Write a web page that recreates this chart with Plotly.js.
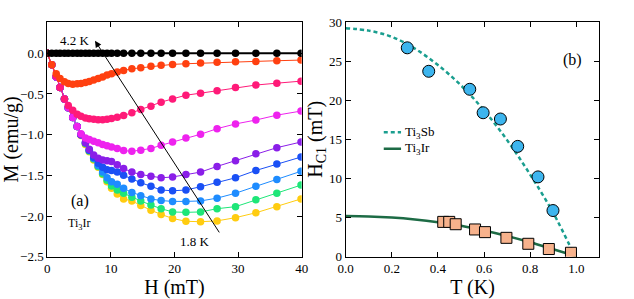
<!DOCTYPE html>
<html><head><meta charset="utf-8">
<script src="https://cdn.plot.ly/plotly-3.0.1.min.js"></script>
<style>html,body{margin:0;padding:0;background:#fff}#c{width:634px;height:299px}</style>
</head><body><div id="c"></div>
<script>
// ---- Panel (a): M vs H for Ti3Ir ----
const H = [0, 0.7, 1.4, 2.0, 2.7, 3.3, 4.0, 4.7, 5.3, 6.0, 6.6, 7.3, 8.0, 8.7, 9.4, 10.1, 11.0, 12.0, 13.3, 14.7, 16.3, 17.9, 19.7, 21.8, 24.1, 26.7, 29.6, 32.8, 36.1, 39.9];
const M_black  = [0,0,0,0,0,0,0,0,0,0,0,0,0,0,0,0,0,0,0,0,0,0,0,0,0,0,0,0,0,0];
const M_orange = [0, -0.14, -0.25, -0.31, -0.35, -0.37, -0.38, -0.375, -0.37, -0.36, -0.345, -0.327, -0.31, -0.29, -0.267, -0.25, -0.23, -0.21, -0.19, -0.178, -0.16, -0.148, -0.136, -0.128, -0.12, -0.111, -0.104, -0.099, -0.091, -0.083];
const M_pink   = [0, -0.14, -0.28, -0.42, -0.56, -0.64, -0.70, -0.75, -0.775, -0.795, -0.805, -0.81, -0.815, -0.815, -0.81, -0.80, -0.785, -0.765, -0.73, -0.69, -0.65, -0.60, -0.56, -0.515, -0.49, -0.46, -0.42, -0.39, -0.367, -0.342];
const M_magenta= [0, -0.14, -0.29, -0.42, -0.56, -0.67, -0.79, -0.90, -0.99, -1.04, -1.06, -1.08, -1.10, -1.12, -1.135, -1.15, -1.17, -1.195, -1.205, -1.19, -1.17, -1.13, -1.09, -1.04, -0.995, -0.926, -0.868, -0.82, -0.76, -0.71];
const M_purple = [0, -0.14, -0.29, -0.42, -0.56, -0.67, -0.79, -0.90, -1.00, -1.10, -1.18, -1.25, -1.29, -1.31, -1.32, -1.33, -1.37, -1.415, -1.46, -1.49, -1.51, -1.53, -1.52, -1.49, -1.46, -1.39, -1.32, -1.235, -1.16, -1.09];
const M_blue   = [0, -0.14, -0.29, -0.42, -0.56, -0.67, -0.79, -0.90, -1.00, -1.10, -1.19, -1.28, -1.35, -1.40, -1.43, -1.44, -1.46, -1.50, -1.545, -1.59, -1.635, -1.68, -1.69, -1.68, -1.64, -1.585, -1.53, -1.44, -1.36, -1.275];
const M_lblue  = [0, -0.14, -0.29, -0.42, -0.56, -0.67, -0.79, -0.90, -1.00, -1.10, -1.19, -1.29, -1.38, -1.46, -1.53, -1.58, -1.61, -1.66, -1.71, -1.75, -1.79, -1.81, -1.82, -1.82, -1.815, -1.78, -1.72, -1.635, -1.55, -1.45];
const M_green  = [0, -0.14, -0.29, -0.42, -0.56, -0.67, -0.79, -0.90, -1.00, -1.11, -1.20, -1.30, -1.39, -1.48, -1.56, -1.63, -1.68, -1.72, -1.77, -1.815, -1.865, -1.91, -1.95, -1.955, -1.95, -1.91, -1.885, -1.80, -1.72, -1.62];
const M_yellow = [0, -0.14, -0.29, -0.42, -0.56, -0.67, -0.79, -0.90, -1.01, -1.12, -1.21, -1.31, -1.40, -1.49, -1.58, -1.66, -1.73, -1.79, -1.815, -1.87, -1.93, -1.98, -2.03, -2.065, -2.07, -2.06, -2.02, -1.96, -1.885, -1.79];
const curveNames  = ['4.2 K','T2','T3','T4','T5','T6','T7','T8','1.8 K'];
const curveColors = ['#000000','#ff4010','#ff1a78','#ee22ee','#8a1ee8','#1a50f5','#1e8cff','#1ee678','#ffcc10'];

// ---- Panel (b): Hc1 vs T ----
const T_sb  = [0.267, 0.36, 0.538, 0.596, 0.671, 0.746, 0.834, 0.899];
const Hc_sb = [26.7, 23.7, 21.4, 18.4, 17.6, 14.1, 10.2, 5.9];
const T_ir  = [0.423, 0.449, 0.477, 0.561, 0.604, 0.697, 0.792, 0.881, 0.977];
const Hc_ir = [4.45, 4.45, 4.15, 3.48, 3.14, 2.41, 1.65, 0.98, 0.5];
const T_fit_sb  = [0, 0.1, 0.2, 0.3, 0.4, 0.5, 0.6, 0.7, 0.8, 0.9, 0.99];
const Hc_fit_sb = [29.2, 28.9, 28.1, 26.6, 24.5, 21.9, 18.7, 14.9, 10.5, 5.6, 0.3];
const T_fit_ir  = [0, 0.1, 0.2, 0.3, 0.4, 0.5, 0.6, 0.7, 0.8, 0.9, 1.0];
const Hc_fit_ir = [5.2, 5.15, 5.0, 4.75, 4.4, 3.95, 3.35, 2.65, 1.85, 0.95, 0.05];

const Ms = [M_black, M_orange, M_pink, M_magenta, M_purple, M_blue, M_lblue, M_green, M_yellow];
const FONT = 'Liberation Serif';
const traces = [];
for (let i = Ms.length - 1; i >= 0; i--) {
  traces.push({x: H, y: Ms[i], type: 'scatter', mode: 'lines+markers', name: curveNames[i],
    xaxis: 'x', yaxis: 'y', showlegend: false,
    line: {color: curveColors[i], width: i === 0 ? 2 : 1},
    marker: {color: curveColors[i], size: 7.5}});
}
traces.push({x: T_fit_sb, y: Hc_fit_sb, type: 'scatter', mode: 'lines', xaxis: 'x2', yaxis: 'y2', showlegend: false,
  line: {color: '#1a9e8f', width: 2.5, dash: '4px,3px', shape: 'spline'}});
traces.push({x: T_fit_ir, y: Hc_fit_ir, type: 'scatter', mode: 'lines', xaxis: 'x2', yaxis: 'y2', showlegend: false,
  line: {color: '#1d6b45', width: 2.5, shape: 'spline'}});
traces.push({x: T_sb, y: Hc_sb, type: 'scatter', mode: 'markers', xaxis: 'x2', yaxis: 'y2', showlegend: false,
  marker: {symbol: 'circle', size: 12, color: '#3db5ee', line: {color: '#000', width: 1}}});
traces.push({x: T_ir, y: Hc_ir, type: 'scatter', mode: 'markers', xaxis: 'x2', yaxis: 'y2', showlegend: false,
  marker: {symbol: 'square', size: 11, color: '#f7b28c', line: {color: '#000', width: 1}}});

const ax = {showline: true, linecolor: '#000', linewidth: 1, mirror: 'ticks', ticks: 'inside', ticklen: 5,
  tickcolor: '#000', showgrid: false, zeroline: false, tickfont: {family: FONT, size: 13, color: '#000'}};
const yDom = [0.1415, 0.9264];
const layout = {
  width: 634, height: 299, margin: {l: 0, r: 0, t: 0, b: 0}, paper_bgcolor: '#fff', plot_bgcolor: '#fff',
  showlegend: false, font: {family: FONT, color: '#000', size: 13},
  xaxis: Object.assign({}, ax, {domain: [0.0746, 0.4758], range: [0, 40], dtick: 10, anchor: 'y',
    title: {text: 'H (mT)', font: {family: FONT, size: 20}, standoff: 2}}),
  yaxis: Object.assign({}, ax, {domain: yDom, range: [-2.5, 0.385], dtick: 0.5, tick0: 0, tickformat: '.1f', anchor: 'x',
    title: {text: 'M (emu/g)', font: {family: FONT, size: 20}, standoff: 0}}),
  xaxis2: Object.assign({}, ax, {domain: [0.5453, 0.9453], range: [0, 1.1], dtick: 0.2, tick0: 0, tickformat: '.1f', anchor: 'y2',
    title: {text: 'T (K)', font: {family: FONT, size: 20}, standoff: 2}}),
  yaxis2: Object.assign({}, ax, {domain: yDom, range: [0, 30], dtick: 5, anchor: 'x2',
    title: {text: 'H<sub>C1</sub> (mT)', font: {family: FONT, size: 20}, standoff: 0}}),
  annotations: [
    {xref: 'x', yref: 'y', x: 7.5, y: 0.155, ax: 27.2, ay: -2.22, axref: 'x', ayref: 'y', text: '',
      showarrow: true, arrowhead: 2, arrowsize: 1.3, arrowwidth: 1, arrowcolor: '#000'},
    {xref: 'x', yref: 'y', x: 4.3, y: 0.16, text: '4.2 K', showarrow: false, font: {family: FONT, size: 13}},
    {xref: 'x', yref: 'y', x: 23.3, y: -2.31, text: '1.8 K', showarrow: false, font: {family: FONT, size: 13}},
    {xref: 'x', yref: 'y', x: 5.1, y: -1.82, text: '(a)', showarrow: false, font: {family: FONT, size: 16}},
    {xref: 'x', yref: 'y', x: 5.0, y: -2.10, text: 'Ti<sub>3</sub>Ir', showarrow: false, font: {family: FONT, size: 12}},
    {xref: 'x2', yref: 'y2', x: 0.985, y: 25.2, text: '(b)', showarrow: false, font: {family: FONT, size: 16}},
    {xref: 'x2', yref: 'y2', x: 0.25, y: 15.9, text: 'Ti<sub>3</sub>Sb', xanchor: 'left', showarrow: false, font: {family: FONT, size: 13}},
    {xref: 'x2', yref: 'y2', x: 0.25, y: 13.8, text: 'Ti<sub>3</sub>Ir', xanchor: 'left', showarrow: false, font: {family: FONT, size: 13}}
  ],
  shapes: [
    {type: 'line', xref: 'x2', yref: 'y2', x0: 0.165, x1: 0.24, y0: 15.9, y1: 15.9, line: {color: '#1a9e8f', width: 2.5, dash: '4px,3px'}},
    {type: 'line', xref: 'x2', yref: 'y2', x0: 0.165, x1: 0.24, y0: 13.8, y1: 13.8, line: {color: '#1d6b45', width: 2.5}}
  ]
};
Plotly.newPlot('c', traces, layout, {displayModeBar: false, staticPlot: true});
</script></body></html>
